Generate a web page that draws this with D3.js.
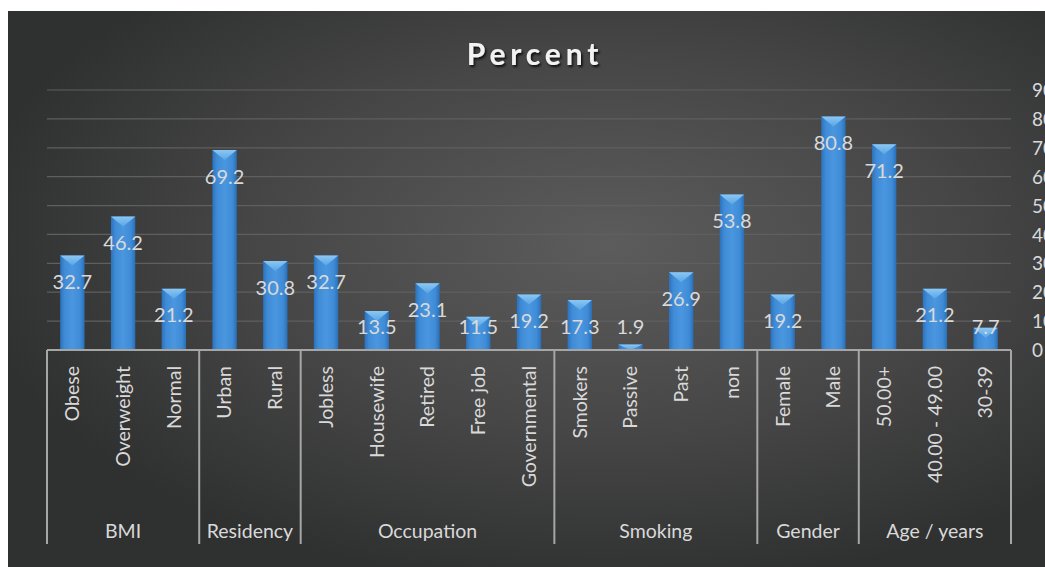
<!DOCTYPE html>
<html>
<head>
<meta charset="utf-8">
<script src="https://cdn.jsdelivr.net/npm/d3@7"></script>
<style>
  html, body { margin: 0; padding: 0; background: #ffffff; }
  svg { display: block; }
  text { font-family: Lato, "Open Sans", sans-serif; }
</style>
</head>
<body>
<svg id="chart" width="1045" height="567"></svg>
<script>
// ---- data ----
const groups = ["BMI", "Residency", "Occupation", "Smoking", "Gender", "Age / years"];
const groupSizes = [3, 2, 5, 4, 2, 3];
const categories = ["Obese", "Overweight", "Normal", "Urban", "Rural",
  "Jobless", "Housewife", "Retired", "Free job", "Governmental",
  "Smokers", "Passive", "Past", "non", "Female", "Male",
  "50.00+", "40.00 - 49.00", "30-39"];
const values = [32.7, 46.2, 21.2, 69.2, 30.8,
  32.7, 13.5, 23.1, 11.5, 19.2,
  17.3, 1.9, 26.9, 53.8, 19.2, 80.8,
  71.2, 21.2, 7.7];
const yTicks = [0, 10, 20, 30, 40, 50, 60, 70, 80, 90];
const title = "Percent";

// ---- layout ----
const W = 1045, H = 567;
const plotL = 47, plotR = 1011, plotT = 90, plotB = 350;
const svg = d3.select("#chart");
const defs = svg.append("defs");

const bg = defs.append("radialGradient").attr("id", "bg")
  .attr("cx", "0.58").attr("cy", "0.42").attr("r", "0.62");
bg.append("stop").attr("offset", "0").attr("stop-color", "#5c5c5c");
bg.append("stop").attr("offset", "0.55").attr("stop-color", "#464646");
bg.append("stop").attr("offset", "1").attr("stop-color", "#2f3030");

const barG = defs.append("linearGradient").attr("id", "bar")
  .attr("x1", "0").attr("x2", "1").attr("y1", "0").attr("y2", "0");
barG.append("stop").attr("offset", "0").attr("stop-color", "#2c72bd");
barG.append("stop").attr("offset", "0.18").attr("stop-color", "#3f8bd6");
barG.append("stop").attr("offset", "0.5").attr("stop-color", "#4a97e0");
barG.append("stop").attr("offset", "0.82").attr("stop-color", "#3f8bd6");
barG.append("stop").attr("offset", "1").attr("stop-color", "#2a6fb8");

const capG = defs.append("linearGradient").attr("id", "cap")
  .attr("x1", "0").attr("x2", "0").attr("y1", "0").attr("y2", "1");
capG.append("stop").attr("offset", "0").attr("stop-color", "#8fcaf4");
capG.append("stop").attr("offset", "1").attr("stop-color", "#5aa6e6");

const sh = defs.append("filter").attr("id", "shadow")
  .attr("x", "-20%").attr("y", "-40%").attr("width", "140%").attr("height", "180%");
sh.append("feDropShadow").attr("dx", 1.5).attr("dy", 2).attr("stdDeviation", 1.2)
  .attr("flood-color", "#000").attr("flood-opacity", 0.8);

// background
svg.append("rect").attr("x", 8).attr("y", 11).attr("width", W - 8).attr("height", H - 11)
  .attr("fill", "url(#bg)");

// scales
const x = d3.scaleBand().domain(d3.range(categories.length)).range([plotL, plotR]).padding(0);
const y = d3.scaleLinear().domain([0, 90]).range([plotB, plotT]);

// gridlines
svg.append("g").selectAll("line").data(yTicks.filter(t => t > 0)).join("line")
  .attr("x1", plotL).attr("x2", plotR)
  .attr("y1", d => y(d)).attr("y2", d => y(d))
  .attr("stroke", "#5f5f5f").attr("stroke-width", 1.2);

// right axis labels (cut by the right edge, as in the reference)
const yAxis = d3.axisRight(y).tickValues(yTicks).tickSize(0).tickPadding(0);
const ya = svg.append("g").attr("transform", `translate(1032,0)`).call(yAxis);
ya.select(".domain").remove();
ya.selectAll("text").attr("fill", "#d9d9d9").attr("font-size", 19)
  .attr("font-family", "Lato, 'Open Sans', sans-serif").attr("dy", "0.35em");

// bars
const bw = x.bandwidth() * 0.48;
const bars = svg.append("g").selectAll("g").data(values).join("g");
bars.append("rect")
  .attr("x", (d, i) => x(i) + (x.bandwidth() - bw) / 2)
  .attr("y", d => y(d))
  .attr("width", bw)
  .attr("height", d => y(0) - y(d))
  .attr("fill", "url(#bar)");
bars.append("path")
  .attr("d", (d, i) => {
    const x0 = x(i) + (x.bandwidth() - bw) / 2, x1 = x0 + bw, t = y(d);
    const h = Math.min(10, y(0) - y(d));
    return `M${x0},${t}L${x1},${t}L${(x0 + x1) / 2},${t + h}Z`;
  })
  .attr("fill", "url(#cap)").attr("opacity", 0.95);

// value labels
svg.append("g").selectAll("text").data(values).join("text")
  .attr("x", (d, i) => x(i) + x.bandwidth() / 2)
  .attr("y", d => Math.min(y(d) + 26.5, y(0) - 23))
  .attr("text-anchor", "middle").attr("dy", "0.35em")
  .attr("fill", "#d9d9d9").attr("font-size", 20)
  .text(d => d.toFixed(1));

// x axis line and separators
const boundaries = [0];
groupSizes.forEach(s => boundaries.push(boundaries[boundaries.length - 1] + s));
const bx = i => i < categories.length ? x(i) : x(categories.length - 1) + x.bandwidth();
svg.append("line").attr("x1", plotL).attr("x2", plotR).attr("y1", plotB).attr("y2", plotB)
  .attr("stroke", "#a6a6a6").attr("stroke-width", 2);
svg.append("g").selectAll("line").data(boundaries).join("line")
  .attr("x1", d => bx(d)).attr("x2", d => bx(d))
  .attr("y1", plotB).attr("y2", 544)
  .attr("stroke", "#a6a6a6").attr("stroke-width", 2);

// category labels (rotated)
svg.append("g").selectAll("text").data(categories).join("text")
  .attr("transform", (d, i) => `translate(${x(i) + x.bandwidth() / 2},366) rotate(-90)`)
  .attr("text-anchor", "end").attr("dy", "0.35em")
  .attr("fill", "#d9d9d9").attr("font-size", 19.5)
  .text(d => d);

// group labels
svg.append("g").selectAll("text").data(groups).join("text")
  .attr("x", (d, i) => (bx(boundaries[i]) + bx(boundaries[i + 1])) / 2)
  .attr("y", 531).attr("dy", "0.35em")
  .attr("text-anchor", "middle")
  .attr("fill", "#d9d9d9").attr("font-size", 19.5)
  .text(d => d);

// title
svg.append("text").attr("x", 535).attr("y", 54).attr("dy", "0.35em")
  .attr("text-anchor", "middle")
  .attr("fill", "#f2f2f2").attr("font-size", 30).attr("font-weight", "bold")
  .attr("letter-spacing", 4.8)
  .attr("filter", "url(#shadow)")
  .text(title);
</script>
</body>
</html>
